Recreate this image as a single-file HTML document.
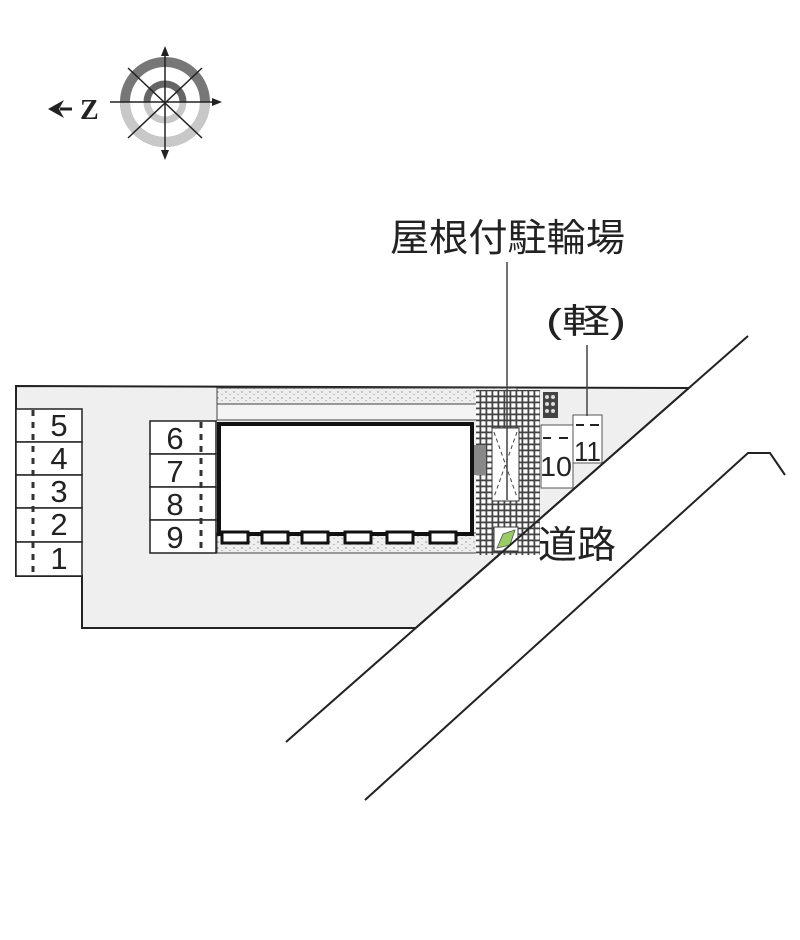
<!DOCTYPE html>
<html><head><meta charset="utf-8"><style>body{margin:0;background:#fff}svg{display:block}</style></head><body>
<svg width="800" height="940" viewBox="0 0 800 940" xmlns="http://www.w3.org/2000/svg" font-family="Liberation Sans, Noto Sans CJK JP, sans-serif">
<defs>
<pattern id="grid" width="6" height="6" patternUnits="userSpaceOnUse"><rect width="6" height="6" fill="#444"/><rect x="1.3" y="1.3" width="4.2" height="4.2" fill="#fff"/></pattern>
<pattern id="dots" width="8" height="6" patternUnits="userSpaceOnUse"><rect width="8" height="6" fill="#eee"/><circle cx="2" cy="2" r="0.7" fill="#888"/><circle cx="6" cy="4.5" r="0.6" fill="#999"/></pattern>
</defs>
<g>
<circle cx="165" cy="102" r="40" fill="none" stroke="#777" stroke-width="10"/>
<path d="M205 102 A40 40 0 0 1 165 142 A40 40 0 0 1 125 102" fill="none" stroke="#c8c8c8" stroke-width="10"/>
<circle cx="165" cy="102" r="18" fill="none" stroke="#c8c8c8" stroke-width="7"/>
<path d="M147 102 A18 18 0 0 1 183 102" fill="none" stroke="#666" stroke-width="7"/>
<g stroke="#222" stroke-width="1.5" fill="none">
<line x1="165" y1="50" x2="165" y2="158"/><line x1="110" y1="102" x2="218" y2="102"/>
<line x1="128" y1="68" x2="202" y2="138"/><line x1="202" y1="68" x2="128" y2="138"/>
</g>
<path d="M165 46 l-4 10 h8z M165 160 l-4 -10 h8z M222 102 l-10 -4 v8z" fill="#222"/>
<path d="M48 109 l16 -9 l-5 9 l5 9z" fill="#222"/><line x1="60" y1="109" x2="72" y2="109" stroke="#222" stroke-width="3"/>
<text x="80" y="119" font-size="28" font-weight="bold" fill="#222" font-family="Liberation Serif, serif">Z</text>
</g>
<path d="M16 386 L688.8 388 L415.7 628 L82 628 L82 576 L16 576 Z" fill="#efefef" stroke="#222" stroke-width="2"/>
<rect x="217" y="388" width="300" height="16" fill="url(#dots)" stroke="#444" stroke-width="1"/>
<rect x="217" y="404" width="275" height="16" fill="#f4f4f4" stroke="#444" stroke-width="1"/>
<rect x="217" y="533" width="262" height="20" fill="url(#dots)" stroke="#444" stroke-width="1"/>
<rect x="219" y="424" width="253" height="110" fill="#fff" stroke="#111" stroke-width="4"/>
<g fill="#fff" stroke="#111" stroke-width="3">
<rect x="222" y="532" width="26" height="11"/><rect x="262" y="532" width="26" height="11"/><rect x="302" y="532" width="26" height="11"/><rect x="345" y="532" width="26" height="11"/><rect x="387" y="532" width="26" height="11"/><rect x="430" y="532" width="26" height="11"/>
</g>
<rect x="476" y="390" width="64" height="165" fill="url(#grid)"/>
<rect x="474" y="445" width="12" height="30" fill="#888"/>
<rect x="492" y="428" width="27" height="73" fill="#fff" stroke="#333"/>
<g stroke="#444" stroke-dasharray="4 3"><line x1="494" y1="432" x2="517" y2="497"/><line x1="517" y1="432" x2="494" y2="497"/></g>
<rect x="494" y="527" width="24" height="24" fill="#fff" stroke="#333"/>
<path d="M497 548 L503 534 L515 530 L510 545Z" fill="#9c6" stroke="#555" stroke-width="0.8"/>
<rect x="543" y="392" width="15" height="26" fill="#444"/>
<g fill="#ddd"><circle cx="547" cy="397" r="2"/><circle cx="553" cy="397" r="2"/><circle cx="547" cy="404" r="2"/><circle cx="553" cy="404" r="2"/><circle cx="547" cy="411" r="2"/><circle cx="553" cy="411" r="2"/></g>
<rect x="541" y="425" width="32" height="63" fill="#fff" stroke="#555"/>
<rect x="573" y="415" width="29" height="48" fill="#fff" stroke="#555"/>
<g stroke="#222" stroke-width="2"><line x1="543" y1="438" x2="551" y2="438"/><line x1="559" y1="438" x2="568" y2="438"/><line x1="576" y1="425" x2="584" y2="425"/><line x1="590" y1="425" x2="599" y2="425"/></g>
<text x="540" y="476" font-size="28" fill="#222" textLength="32" lengthAdjust="spacingAndGlyphs">10</text>
<text x="574" y="461" font-size="28" fill="#222" textLength="27" lengthAdjust="spacingAndGlyphs">11</text>
<g fill="#fff" stroke="#222" stroke-width="1.5">
<rect x="16" y="409" width="66" height="33"/><rect x="16" y="442" width="66" height="33"/><rect x="16" y="475" width="66" height="33"/><rect x="16" y="508" width="66" height="34"/><rect x="16" y="542" width="66" height="34"/>
<rect x="150" y="421" width="66" height="33"/><rect x="150" y="454" width="66" height="33"/><rect x="150" y="487" width="66" height="33"/><rect x="150" y="520" width="66" height="33"/>
</g>
<g stroke="#333" stroke-width="3" stroke-dasharray="6 6"><line x1="33" y1="410" x2="33" y2="575"/><line x1="201" y1="422" x2="201" y2="552"/></g>
<g font-size="31" fill="#222" text-anchor="middle">
<text x="59" y="436">5</text><text x="59" y="469">4</text><text x="59" y="502">3</text><text x="59" y="535">2</text><text x="59" y="569">1</text>
<text x="175" y="449">6</text><text x="175" y="482">7</text><text x="175" y="515">8</text><text x="175" y="548">9</text>
</g>
<path d="M286 742 L748 336" stroke="#222" stroke-width="2" fill="none"/>
<path d="M365 800 L748 453 L770 453 L785 475" stroke="#222" stroke-width="2" fill="none"/>
<line x1="507" y1="262" x2="507" y2="500" stroke="#444" stroke-width="1.5"/>
<line x1="587" y1="345" x2="587" y2="416" stroke="#444" stroke-width="1.5"/>
<text x="390" y="251" font-size="38" fill="#222" textLength="235" lengthAdjust="spacingAndGlyphs">屋根付駐輪場</text>
<text x="546" y="333" font-size="34" fill="#222" textLength="80" lengthAdjust="spacingAndGlyphs">(軽)</text>
<text x="538" y="558" font-size="38" fill="#222" textLength="78" lengthAdjust="spacingAndGlyphs">道路</text>
</svg>
</body></html>
